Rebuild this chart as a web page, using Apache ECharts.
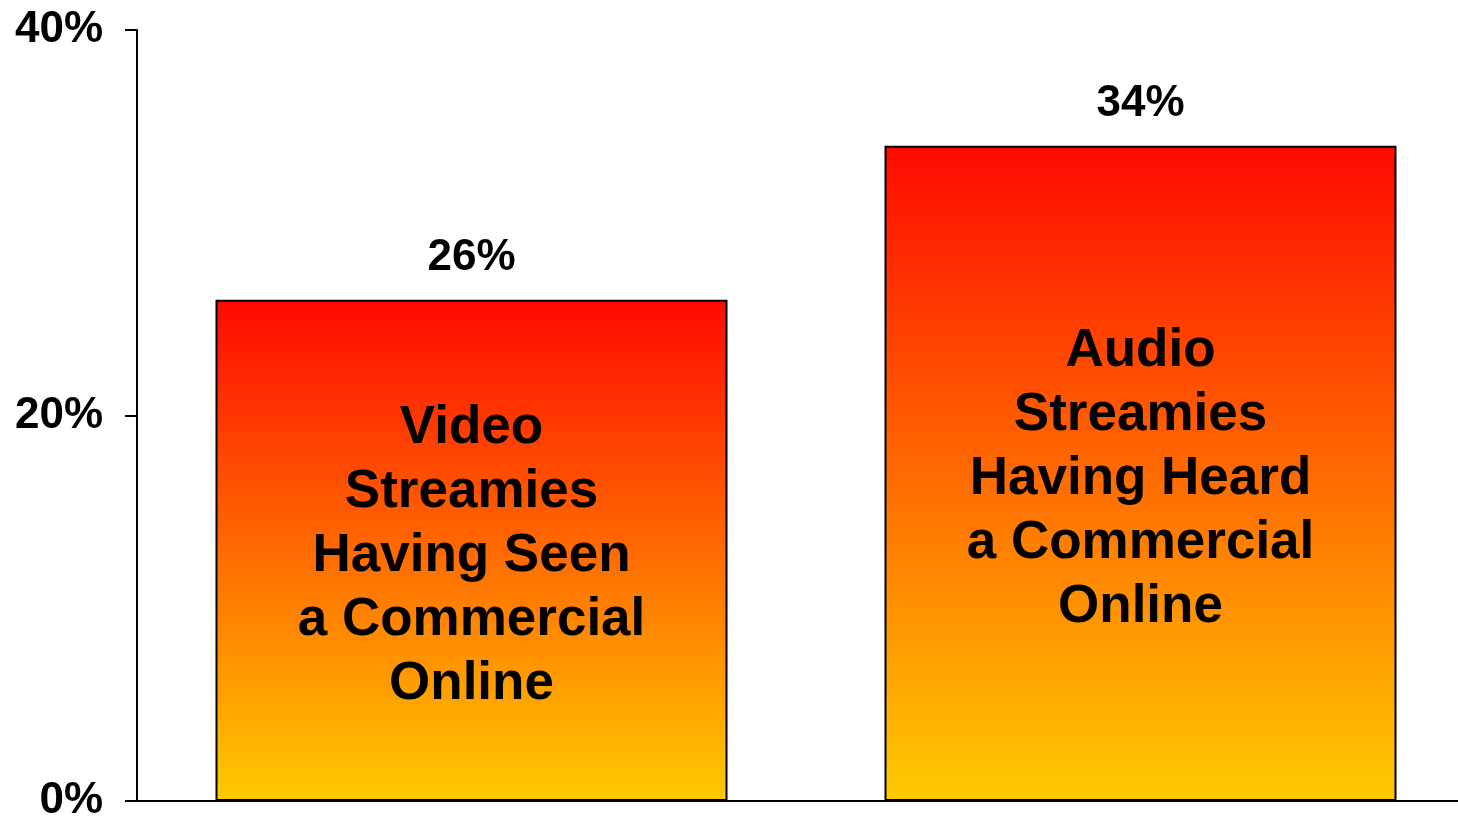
<!DOCTYPE html>
<html>
<head>
<meta charset="utf-8">
<title>Streamies commercials</title>
<script src="https://cdn.jsdelivr.net/npm/echarts@6/dist/echarts.min.js"></script>
<style>
  html, body { margin: 0; padding: 0; background: #fff; }
  #chart { width: 1458px; height: 817px; }
</style>
</head>
<body>
<div id="chart"></div>
<script>
// data
var categories = [
    'Video\nStreamies\nHaving Seen\na Commercial\nOnline',
    'Audio\nStreamies\nHaving Heard\na Commercial\nOnline'
];
var values = [26, 34];
var yTicks = [0, 20, 40];

var font = '"Liberation Sans", Arial, sans-serif';

var barFill = new echarts.graphic.LinearGradient(0, 0, 0, 1, [
    {offset: 0, color: '#FF0A00'},
    {offset: 0.5, color: '#FF6A00'},
    {offset: 1, color: '#FFCB00'}
]);

var chart = echarts.init(document.getElementById('chart'));
var option = {
    animation: false,
    backgroundColor: '#fff',
    grid: {
        left: 137, top: 30, bottom: 16, right: -17,
        containLabel: false,
        outerBoundsMode: 'none'
    },
    xAxis: {
        type: 'category',
        data: categories,
        axisLine: {lineStyle: {color: '#000', width: 2}},
        axisTick: {show: false},
        axisLabel: {show: false}
    },
    yAxis: {
        type: 'value',
        min: yTicks[0],
        max: yTicks[yTicks.length - 1],
        interval: 20,
        splitLine: {show: false},
        axisLine: {show: true, lineStyle: {color: '#000', width: 2}},
        axisTick: {show: true, length: 12, lineStyle: {color: '#000', width: 2}},
        axisLabel: {
            margin: 34,
            color: '#000',
            fontFamily: font,
            fontWeight: 'bold',
            fontSize: 44,
            formatter: '{value}%'
        }
    },
    series: [
        {
            type: 'bar',
            data: values,
            barWidth: 512,
            itemStyle: {color: barFill, borderColor: '#000', borderWidth: 2},
            label: {
                show: true,
                position: 'top',
                distance: 20,
                color: '#000',
                fontFamily: font,
                fontWeight: 'bold',
                fontSize: 44,
                formatter: '{c}%'
            }
        },
        {
            // same bars again, only to carry the names inside them
            type: 'bar',
            data: values,
            barWidth: 512,
            barGap: '-100%',
            itemStyle: {color: 'rgba(0,0,0,0)'},
            label: {
                show: true,
                position: 'inside',
                offset: [0, 6],
                color: '#000',
                fontFamily: font,
                fontWeight: 'bold',
                fontSize: 53,
                lineHeight: 64,
                align: 'center',
                formatter: function (p) { return categories[p.dataIndex]; }
            }
        }
    ]
};
chart.setOption(option);
</script>
</body>
</html>
